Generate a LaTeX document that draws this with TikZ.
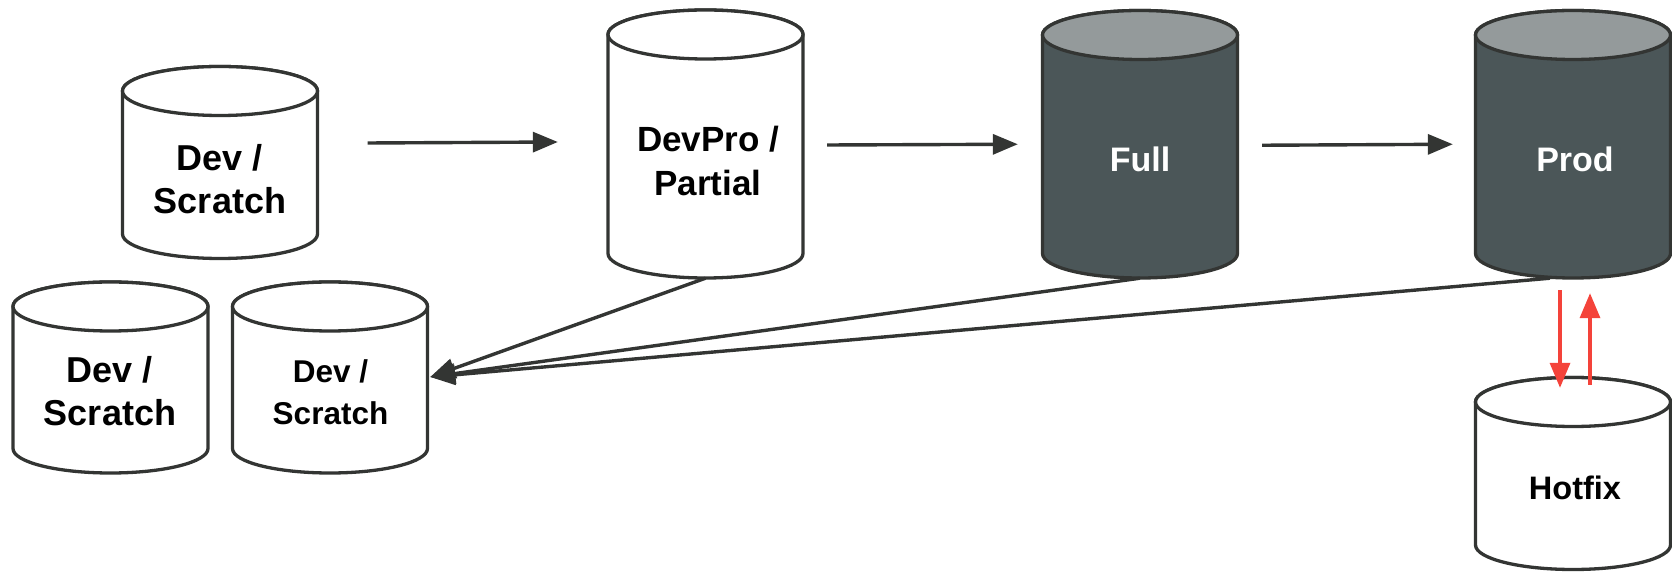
\documentclass[tikz,border=0pt]{standalone}
\usepackage{fontspec}
\setmainfont{Liberation Sans}
\usetikzlibrary{arrows.meta}
\definecolor{lc}{HTML}{333533}
\definecolor{darkbody}{HTML}{4B5658}
\definecolor{darktop}{HTML}{949A9B}
\definecolor{redarrow}{HTML}{F4433A}
\tikzset{
  cylline/.style={draw=lc, line width=3.3pt, line join=round},
  flow/.style={draw=lc, line width=3.4pt, -{Triangle[length=25pt,width=20pt]}},
  redflow/.style={draw=redarrow, line width=3.4pt, -{Triangle[length=25pt,width=20pt]}},
  lbl/.style={inner sep=0pt, align=center, font=\bfseries},
}
% #1 name, #2 cx, #3 Y of top ellipse centre, #4 Y of bottom ellipse centre, #5 body fill, #6 top fill
\newcommand\dbcyl[6]{%
  \path[cylline, fill=#5] (#2-97.5,#3) -- (#2-97.5,#4)
     arc[start angle=180, end angle=360, x radius=97.5pt, y radius=24.5pt]
     -- (#2+97.5,#3)
     arc[start angle=0, end angle=180, x radius=97.5pt, y radius=24.5pt] -- cycle;
  \path[cylline, fill=#6] (#2,#3) ellipse[x radius=97.5pt, y radius=24.5pt];
  \node[inner sep=0pt, minimum width=195pt, minimum height={#3-#4+49}] (#1) at (#2,{(#3+#4)/2}) {};
}
\begin{document}
\begin{tikzpicture}[x=1pt,y=1pt]
\useasboundingbox (0,0) rectangle (1672,573);
\dbcyl{A}{220}{482}{339}{white}{white}
\dbcyl{B}{705.5}{538.5}{319.5}{white}{white}
\dbcyl{C}{1140}{538}{319.5}{darkbody}{darktop}
\dbcyl{D}{1573}{538}{319.5}{darkbody}{darktop}
\dbcyl{E}{110.5}{266.5}{124.5}{white}{white}
\dbcyl{F}{330}{266.5}{124.5}{white}{white}
\dbcyl{G}{1573}{171}{28}{white}{white}

\node[lbl, font=\bfseries\fontsize{36}{43}\selectfont] (Atext) at (220,393.5) {Dev /\\Scratch};
\node[lbl, font=\bfseries\fontsize{35}{44}\selectfont] (Btext) at (708,412.5) {DevPro /\\Partial};
\node[lbl, font=\bfseries\fontsize{34}{41}\selectfont, text=white] (Ctext) at (1140,413.5) {Full};
\node[lbl, font=\bfseries\fontsize{34}{41}\selectfont, text=white] (Dtext) at (1575,413.5) {Prod};
\node[lbl, font=\bfseries\fontsize{36}{43}\selectfont] (Etext) at (110,182) {Dev /\\Scratch};
\node[lbl, font=\bfseries\fontsize{31.5}{42}\selectfont] (Ftext) at (330.5,181) {Dev /\\Scratch};
\node[lbl, font=\bfseries\fontsize{32.5}{40}\selectfont] (Gtext) at (1575,85.5) {Hotfix};

\draw[flow] ([shift={(50,19.5)}]A.east) -- ([shift={(-50,2)}]B.west);
\draw[flow] ([shift={(24,-1)}]B.east) -- ([shift={(-24.5,0)}]C.west);
\draw[flow] ([shift={(24.5,-1)}]C.east) -- ([shift={(-22.5,0)}]D.west);

\draw[flow] (B.south) -- ([shift={(2.5,0.5)}]F.east);
\draw[flow] (C.south) -- ([shift={(2.5,0.5)}]F.east);
\draw[flow] ([xshift=-23pt]D.south) -- ([shift={(2.5,0.5)}]F.east);

\draw[redflow] ([shift={(-13,-12)}]D.south) -- ([shift={(-13,-10.5)}]G.north);
\draw[redflow] ([shift={(17,-7.5)}]G.north) -- ([shift={(17,-15)}]D.south);
\end{tikzpicture}
\end{document}
